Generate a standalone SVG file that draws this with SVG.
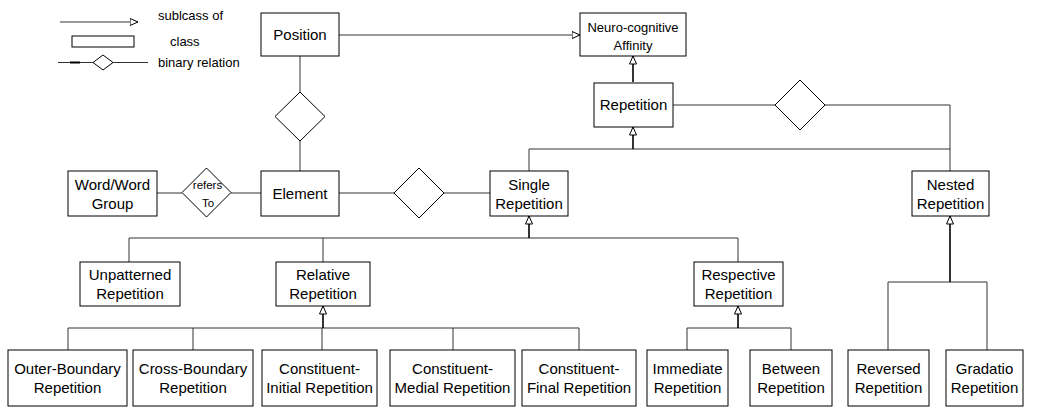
<svg xmlns="http://www.w3.org/2000/svg" width="1040" height="409" viewBox="0 0 1040 409">
<defs>
<style>
.box{fill:#fff;stroke:#000;stroke-width:1}
.t{font-family:"Liberation Sans",Arial,sans-serif;font-size:15px;fill:#000;text-anchor:middle}
.s{font-family:"Liberation Sans",Arial,sans-serif;font-size:13px;fill:#000;text-anchor:middle}
.lg{font-family:"Liberation Sans",Arial,sans-serif;font-size:13px;fill:#000}
.r{font-family:"Liberation Sans",Arial,sans-serif;font-size:11.5px;fill:#000;text-anchor:middle}
.c{fill:none;stroke:#333;stroke-width:1}
.stem{fill:none;stroke:#000;stroke-width:1.6}
.dia{fill:#fff;stroke:#000;stroke-width:1}
</style>
<marker id="tri" viewBox="0 0 9 8" refX="8.5" refY="4" markerWidth="9" markerHeight="8" markerUnits="userSpaceOnUse" orient="auto">
<path d="M0.5,0.5 L8.5,4 L0.5,7.5 Z" fill="#fff" stroke="#000" stroke-width="1"/>
</marker>
</defs>
<g id="legend">
<path class="c" d="M60,22 H138" marker-end="url(#tri)"/>
<text class="lg" x="158" y="19.5">sublcass of</text>
<rect class="box" x="72" y="36" width="62" height="11"/>
<text class="lg" x="170" y="46">class</text>
<path class="c" d="M58,62.5 H93 M113,62.5 H148"/>
<path d="M70,62.5 H80" stroke="#000" stroke-width="2"/>
<polygon class="dia" points="93,62.5 103,55 113,62.5 103,70"/>
<text class="lg" x="158" y="67">binary relation</text>
</g>
<g id="connectors">
<path class="c" d="M339,35 H580" marker-end="url(#tri)"/>
<path class="stem" d="M633,82 V56" marker-end="url(#tri)"/>
<path class="c" d="M673,105 H775 M825,105 H950 V171"/>
<polygon class="dia" points="775,105 800,80 825,105 800,130"/>
<path class="c" d="M529,171 V149 H950"/>
<path class="stem" d="M633,149 V127" marker-end="url(#tri)"/>
<path class="c" d="M300,56 V92 M300,141 V171"/>
<polygon class="dia" points="275,116.5 300,92 325,116.5 300,141"/>
<path class="c" d="M157,193 H182 M231,193 H261"/>
<polygon class="dia" points="182,192.5 206.5,168 231,192.5 206.5,217"/>
<text class="r" x="207.5" y="189">refers</text>
<text class="r" x="208" y="207">To</text>
<path class="c" d="M339,193 H394 M444,193 H490"/>
<polygon class="dia" points="394,193 419,168 444,193 419,218"/>
<path class="c" d="M129,262 V238 H738 V262 M323,238 V262"/>
<path class="stem" d="M529,238 V216" marker-end="url(#tri)"/>
<path class="c" d="M68,350 V328 H579 V350 M193,328 V350 M322,328 V350 M453,328 V350"/>
<path class="stem" d="M323,328 V306" marker-end="url(#tri)"/>
<path class="c" d="M687,350 V328 H791 V350"/>
<path class="stem" d="M738,328 V306" marker-end="url(#tri)"/>
<path class="c" d="M888,350 V282 H987 V350"/>
<path class="stem" d="M950,282 V216" marker-end="url(#tri)"/>
</g>
<g id="position"><rect class="box" x="261" y="13" width="78" height="43"/><text class="t" x="300" y="40">Position</text></g>
<g id="affinity"><rect class="box" x="580" y="13" width="106" height="43"/><text class="s" x="633" y="32">Neuro-cognitive</text><text class="s" x="633" y="50">Affinity</text></g>
<g id="repetition"><rect class="box" x="594" y="83" width="79" height="44"/><text class="t" x="633.5" y="110">Repetition</text></g>
<g id="nested"><rect class="box" x="912" y="171" width="77" height="45"/><text class="t" x="950.5" y="190">Nested</text><text class="t" x="950.5" y="208.5">Repetition</text></g>
<g id="single"><rect class="box" x="490" y="171" width="78" height="45"/><text class="t" x="529" y="190">Single</text><text class="t" x="529" y="208.5">Repetition</text></g>
<g id="element"><rect class="box" x="261" y="171" width="78" height="45"/><text class="t" x="300" y="198.5">Element</text></g>
<g id="word"><rect class="box" x="68" y="171" width="89" height="45"/><text class="t" x="112.5" y="190">Word/Word</text><text class="t" x="112.5" y="208.5">Group</text></g>
<g id="unpatterned"><rect class="box" x="80" y="262" width="100" height="44"/><text class="t" x="130" y="280">Unpatterned</text><text class="t" x="130" y="298.5">Repetition</text></g>
<g id="relative"><rect class="box" x="276" y="262" width="94" height="44"/><text class="t" x="323" y="280">Relative</text><text class="t" x="323" y="298.5">Repetition</text></g>
<g id="respective"><rect class="box" x="694" y="262" width="89" height="44"/><text class="t" x="738.5" y="280">Respective</text><text class="t" x="738.5" y="298.5">Repetition</text></g>
<g id="outer"><rect class="box" x="8" y="350" width="119" height="56"/><text class="t" x="67.5" y="374">Outer-Boundary</text><text class="t" x="67.5" y="393">Repetition</text></g>
<g id="cross"><rect class="box" x="133" y="350" width="120" height="56"/><text class="t" x="193" y="374">Cross-Boundary</text><text class="t" x="193" y="393">Repetition</text></g>
<g id="initial"><rect class="box" x="262" y="350" width="115" height="56"/><text class="t" x="319.5" y="374">Constituent-</text><text class="t" x="319.5" y="393">Initial Repetition</text></g>
<g id="medial"><rect class="box" x="390" y="350" width="125" height="56"/><text class="t" x="452.5" y="374">Constituent-</text><text class="t" x="452.5" y="393">Medial Repetition</text></g>
<g id="final"><rect class="box" x="522" y="350" width="114" height="56"/><text class="t" x="579" y="374">Constituent-</text><text class="t" x="579" y="393">Final Repetition</text></g>
<g id="immediate"><rect class="box" x="647" y="350" width="81" height="56"/><text class="t" x="687.5" y="374">Immediate</text><text class="t" x="687.5" y="393">Repetition</text></g>
<g id="between"><rect class="box" x="750" y="350" width="82" height="56"/><text class="t" x="791" y="374">Between</text><text class="t" x="791" y="393">Repetition</text></g>
<g id="reversed"><rect class="box" x="848" y="350" width="81" height="56"/><text class="t" x="888.5" y="374">Reversed</text><text class="t" x="888.5" y="393">Repetition</text></g>
<g id="gradatio"><rect class="box" x="946" y="350" width="77" height="56"/><text class="t" x="984.5" y="374">Gradatio</text><text class="t" x="984.5" y="393">Repetition</text></g>
</svg>
